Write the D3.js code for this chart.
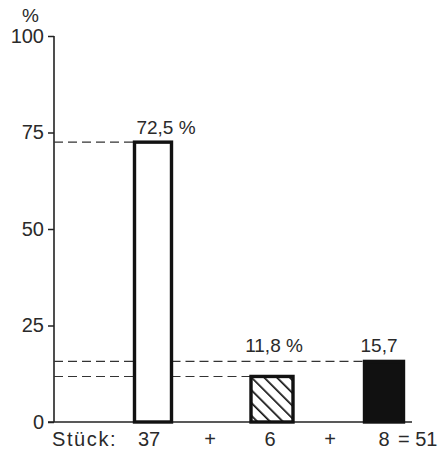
<!DOCTYPE html>
<html><head><meta charset="utf-8">
<script src="https://cdn.jsdelivr.net/npm/d3@7/dist/d3.min.js"></script>
<style>body{margin:0;background:#fff}text{font-family:"Liberation Sans",Arial,sans-serif;fill:#2a2a2a}</style>
</head><body><svg id="c" width="438" height="453"></svg>
<script>
const categories = ["A", "B", "C"];
const percents = [72.5, 11.8, 15.7];
const percentLabels = ["72,5 %", "11,8 %", "15,7"];
const counts = [37, 6, 8];
const total = 51;
const yTicks = [0, 25, 50, 75, 100];

const svg = d3.select("#c");
const y = d3.scaleLinear().domain([0, 100]).range([422, 36]);
const x = d3.scaleOrdinal().domain(categories).range([153, 272, 384]);
const barW = [37, 42, 39];
const axisX = 54;

const defs = svg.append("defs");
const pat = defs.append("pattern").attr("id", "hatch").attr("patternUnits", "userSpaceOnUse")
  .attr("width", 9).attr("height", 9).attr("patternTransform", "rotate(-45)");
pat.append("rect").attr("width", 9).attr("height", 9).attr("fill", "#fff");
pat.append("line").attr("x1", 0).attr("y1", 0).attr("x2", 0).attr("y2", 9).attr("stroke", "#111").attr("stroke-width", 3.4);

// y axis
const yAxis = d3.axisLeft(y).tickValues(yTicks).tickSize(6).tickPadding(4);
const g = svg.append("g").attr("transform", `translate(${axisX},0)`).call(yAxis);
g.select(".domain").remove();
g.selectAll(".tick line").attr("stroke", "#222").attr("stroke-width", 1.5);
g.selectAll(".tick text").attr("font-size", 20).attr("fill", "#2a2a2a").attr("font-family", "Liberation Sans, Arial, sans-serif");
svg.append("line").attr("x1", axisX).attr("x2", axisX).attr("y1", y(100)).attr("y2", y(0)).attr("stroke", "#222").attr("stroke-width", 1.6);
svg.append("line").attr("x1", axisX - 6).attr("x2", 412).attr("y1", y(0)).attr("y2", y(0)).attr("stroke", "#222").attr("stroke-width", 1.6);
svg.append("text").attr("x", 22).attr("y", 22).attr("font-size", 19).text("%");

// dashed reference lines
const b0L = x(categories[0]) - barW[0] / 2, b0R = x(categories[0]) + barW[0] / 2;
const dashes = [
  [axisX, b0L, percents[0]],
  [axisX, b0L, percents[1]], [b0R, x(categories[1]) - barW[1] / 2, percents[1]],
  [axisX, b0L, percents[2]], [b0R, x(categories[2]) - barW[2] / 2, percents[2]]
];
svg.selectAll(".dash").data(dashes).join("line")
  .attr("x1", d => d[0]).attr("x2", d => d[1]).attr("y1", d => y(d[2])).attr("y2", d => y(d[2]))
  .attr("stroke", "#333").attr("stroke-width", 1.1).attr("stroke-dasharray", "9,5");

// bars
const fills = ["#fff", "url(#hatch)", "#111"];
svg.selectAll(".bar").data(categories).join("rect")
  .attr("x", (d, i) => x(d) - barW[i] / 2).attr("width", (d, i) => barW[i])
  .attr("y", (d, i) => y(percents[i])).attr("height", (d, i) => y(0) - y(percents[i]))
  .attr("fill", (d, i) => fills[i]).attr("stroke", "#111").attr("stroke-width", 3.4);

// value labels
const lblDx = [13, 2, -5], lblDy = [8, 24, 9];
svg.selectAll(".lbl").data(categories).join("text")
  .attr("x", (d, i) => x(d) + lblDx[i]).attr("y", (d, i) => y(percents[i]) - lblDy[i])
  .attr("text-anchor", "middle").attr("font-size", 19).text((d, i) => percentLabels[i]);

// bottom row
const by = 446;
svg.append("text").attr("x", 52).attr("y", by).attr("font-size", 20).attr("letter-spacing", 1.6).text("Stück:");
const cntDx = [-4, -2, 0];
svg.selectAll(".cnt").data(categories).join("text")
  .attr("x", (d, i) => x(d) + cntDx[i]).attr("y", by).attr("text-anchor", "middle")
  .attr("font-size", 20).text((d, i) => counts[i]);
svg.selectAll(".plus").data([210, 330]).join("text")
  .attr("x", d => d).attr("y", by).attr("text-anchor", "middle").attr("font-size", 20).text("+");
svg.append("text").attr("x", 398).attr("y", by).attr("font-size", 20).text("= " + total);
</script></body></html>
